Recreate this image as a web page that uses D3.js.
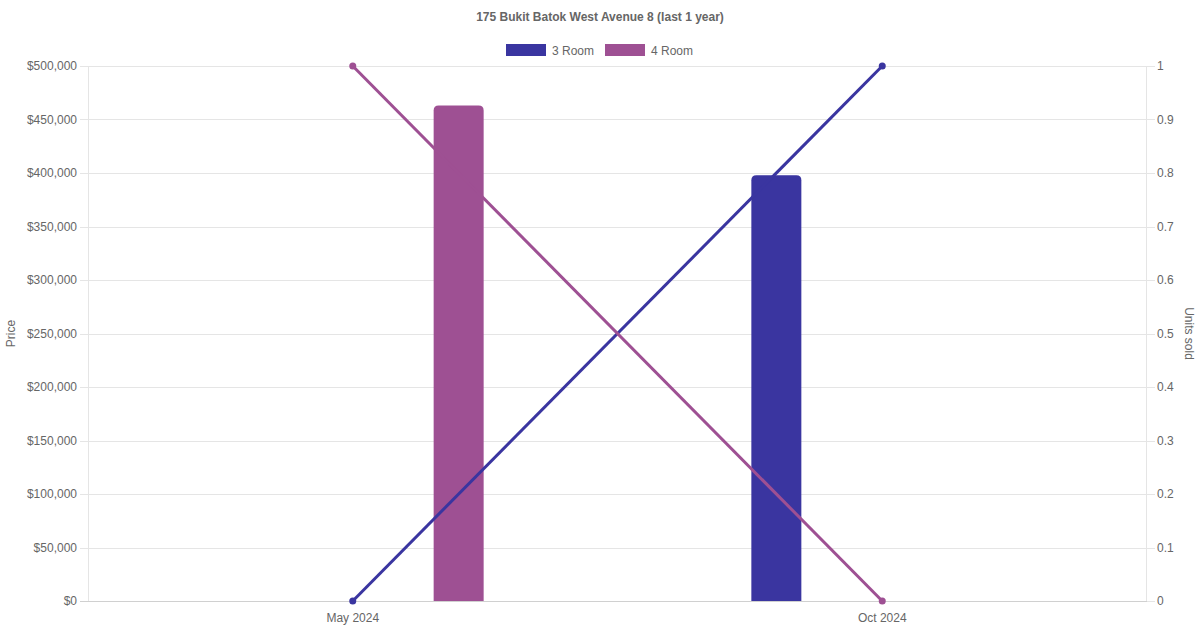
<!DOCTYPE html>
<html>
<head>
<meta charset="utf-8">
<script src="https://cdn.jsdelivr.net/npm/d3@7/dist/d3.min.js"></script>
<style>
html,body{margin:0;padding:0;background:#fff;}
svg{display:block;}
text{font-family:'Helvetica Neue','Helvetica','Arial',sans-serif;fill:#666;}
</style>
</head>
<body>
<svg id="chart" width="1200" height="630"></svg>
<script>
const categories = ["May 2024", "Oct 2024"];
const seriesNames = ["3 Room", "4 Room"];
const seriesColors = ["#3a35a0", "#9e5093"];
const priceValues = [[null, 398000], [463000, null]];   // per series, per category
const unitsValues = [[0, 1], [1, 0]];                    // per series, per category
const priceTicks = [0, 50000, 100000, 150000, 200000, 250000, 300000, 350000, 400000, 450000, 500000];
const unitTicks = [0, 0.1, 0.2, 0.3, 0.4, 0.5, 0.6, 0.7, 0.8, 0.9, 1];
const titleText = "175 Bukit Batok West Avenue 8 (last 1 year)";

const svg = d3.select("#chart");
const m = {left: 88, right: 1147, top: 66, bottom: 601};

const x = d3.scaleBand().domain(categories).range([m.left, m.right]).padding(0);
const xSub = d3.scaleBand().domain(seriesNames).range([0, x.bandwidth() * 0.8]).padding(0);
const yL = d3.scaleLinear().domain([0, 500000]).range([m.bottom, m.top]);
const yR = d3.scaleLinear().domain([0, 1]).range([m.bottom, m.top]);
const barW = 50;

// grid
const grid = svg.append("g");
priceTicks.forEach(t => {
  grid.append("line").attr("x1", m.left - 8).attr("x2", m.right)
    .attr("y1", Math.round(yL(t)) + 0.5).attr("y2", Math.round(yL(t)) + 0.5)
    .attr("stroke", t === 0 ? "#d0d0d0" : "#e5e5e5").attr("stroke-width", 1);
});
unitTicks.forEach(t => {
  grid.append("line").attr("x1", m.right).attr("x2", m.right + 8)
    .attr("y1", Math.round(yR(t)) + 0.5).attr("y2", Math.round(yR(t)) + 0.5)
    .attr("stroke", "#e5e5e5");
});
grid.append("line").attr("x1", m.left + 0.5).attr("x2", m.left + 0.5).attr("y1", m.top).attr("y2", m.bottom).attr("stroke", "#e5e5e5");
grid.append("line").attr("x1", m.right - 0.5).attr("x2", m.right - 0.5).attr("y1", m.top).attr("y2", m.bottom).attr("stroke", "#e5e5e5");

// left axis
const axL = d3.axisLeft(yL).tickValues(priceTicks).tickSize(0).tickPadding(11)
  .tickFormat(d => "$" + d3.format(",")(d));
const gL = svg.append("g").attr("transform", `translate(${m.left},0)`).call(axL);
gL.select(".domain").remove();
gL.selectAll("text").attr("font-size", 12).style("fill", "#666").attr("font-family", null);

const axR = d3.axisRight(yR).tickValues(unitTicks).tickSize(0).tickPadding(10)
  .tickFormat(d => d3.format("~g")(d));
const gR = svg.append("g").attr("transform", `translate(${m.right},0)`).call(axR);
gR.select(".domain").remove();
gR.selectAll("text").attr("font-size", 12).style("fill", "#666").attr("font-family", null);

const axB = d3.axisBottom(x).tickSize(0).tickPadding(12);
const gB = svg.append("g").attr("transform", `translate(0,${m.bottom})`).call(axB);
gB.select(".domain").remove();
gB.selectAll("text").attr("font-size", 12).style("fill", "#666").attr("font-family", null);

// bars
function roundTopRect(x0, y0, w, h, r) {
  r = Math.min(r, h, w / 2);
  return `M${x0},${y0 + h}V${y0 + r}Q${x0},${y0} ${x0 + r},${y0}H${x0 + w - r}Q${x0 + w},${y0} ${x0 + w},${y0 + r}V${y0 + h}Z`;
}
const bars = svg.append("g");
seriesNames.forEach((s, si) => {
  categories.forEach((c, ci) => {
    const v = priceValues[si][ci];
    if (v == null) return;
    const cx = x(c) + x.bandwidth() * 0.1 + xSub(s) + xSub.bandwidth() / 2;
    const top = yL(v);
    bars.append("path").attr("d", roundTopRect(cx - barW / 2, top, barW, m.bottom - top, 5))
      .attr("fill", seriesColors[si]);
  });
});

// lines
const lines = svg.append("g");
seriesNames.forEach((s, si) => {
  const pts = categories.map((c, ci) => [x(c) + x.bandwidth() / 2, yR(unitsValues[si][ci])]);
  lines.append("path").attr("d", d3.line()(pts)).attr("fill", "none")
    .attr("stroke", seriesColors[si]).attr("stroke-width", 3);
  pts.forEach(p => lines.append("circle").attr("cx", p[0]).attr("cy", p[1]).attr("r", 3.5).attr("fill", seriesColors[si]));
});

// title
svg.append("text").attr("x", 600).attr("y", 21).attr("text-anchor", "middle")
  .attr("font-size", 12).attr("font-weight", "bold").text(titleText);

// legend
const legendItems = [{x: 506}, {x: 605}];
seriesNames.forEach((s, si) => {
  const lx = legendItems[si].x;
  svg.append("rect").attr("x", lx).attr("y", 44).attr("width", 40).attr("height", 12).attr("fill", seriesColors[si]);
  svg.append("text").attr("x", lx + 46).attr("y", 54.5).attr("font-size", 12).text(s);
});

// axis titles
svg.append("text").attr("transform", `translate(15,${(m.top + m.bottom) / 2}) rotate(-90)`)
  .attr("text-anchor", "middle").attr("font-size", 12).text("Price");
svg.append("text").attr("transform", `translate(1185,${(m.top + m.bottom) / 2}) rotate(90)`)
  .attr("text-anchor", "middle").attr("font-size", 12).text("Units sold");
</script>
</body>
</html>
